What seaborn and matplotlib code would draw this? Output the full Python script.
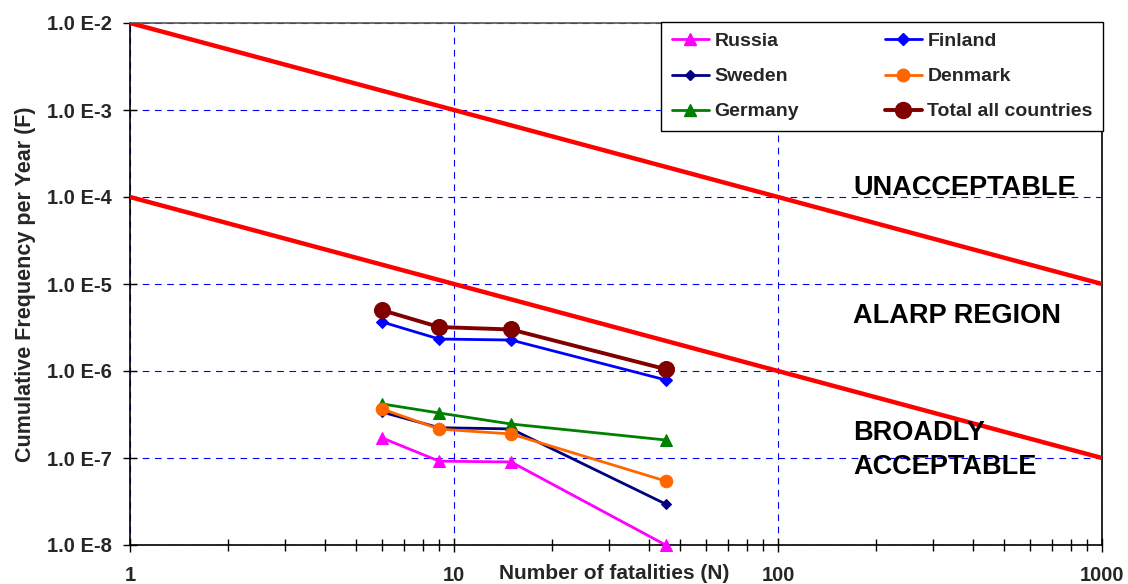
import numpy as np
import pandas as pd
import matplotlib
matplotlib.use("Agg")
import matplotlib.pyplot as plt
import seaborn as sns
from matplotlib.ticker import LogLocator, FixedLocator, NullFormatter, FuncFormatter

sns.set_theme(style="white")
plt.rcParams['font.family'] = ['Liberation Sans', 'DejaVu Sans']
plt.rcParams['font.weight'] = 'bold'

# Data
fatalities = [6, 9, 15, 45]
russia = [1.70e-7, 9.2e-8, 9.0e-8, 1.0e-8]
sweden = [3.37e-7, 2.23e-7, 2.16e-7, 2.96e-8]
germany = [4.18e-7, 3.29e-7, 2.46e-7, 1.61e-7]
finland = [3.66e-6, 2.33e-6, 2.27e-6, 7.9e-7]
denmark = [3.66e-7, 2.15e-7, 1.89e-7, 5.44e-8]
total = [5.0e-6, 3.2e-6, 3.0e-6, 1.05e-6]

# Criterion lines (F-N limits)
limit_n = [1, 1000]
upper_limit = [1e-2, 1e-5]
lower_limit = [1e-4, 1e-7]

series_names = ["Russia", "Sweden", "Germany", "Finland", "Denmark", "Total all countries"]
series_values = [russia, sweden, germany, finland, denmark, total]

df = pd.DataFrame(
    [(name, n, f) for name, vals in zip(series_names, series_values) for n, f in zip(fatalities, vals)],
    columns=["Country", "N", "F"],
)

styles = {
    "Russia": dict(color="#FF00FF", marker="^", ms=8, lw=2.0),
    "Sweden": dict(color="#000080", marker="D", ms=5, lw=2.0),
    "Germany": dict(color="#008000", marker="^", ms=9, lw=2.0),
    "Finland": dict(color="#0000FF", marker="D", ms=6.5, lw=2.0),
    "Denmark": dict(color="#FF6600", marker="o", ms=9, lw=2.0),
    "Total all countries": dict(color="#800000", marker="o", ms=11.5, lw=2.8),
}

fig = plt.figure(figsize=(11.28, 5.84), dpi=100)
ax = fig.add_axes([130 / 1128, 1 - 545 / 584, 972 / 1128, 522 / 584])

ax.set_xscale("log")
ax.set_yscale("log")
ax.set_xlim(1, 1000)
ax.set_ylim(1e-8, 1e-2)

# grid
ax.grid(True, which="major", axis="both", color="#0000FF", linestyle=(0, (6, 5)), linewidth=0.8)

# limit lines
crit = pd.DataFrame({"N": limit_n * 2, "F": upper_limit + lower_limit,
                     "line": ["up", "up", "low", "low"]})
for key in ["up", "low"]:
    sns.lineplot(data=crit[crit["line"] == key], x="N", y="F", ax=ax, color="#FF0000",
                 linewidth=3.2, legend=False, zorder=3, solid_capstyle="butt")

handles = []
for name in series_names:
    st = styles[name]
    sub = df[df["Country"] == name]
    sns.lineplot(data=sub, x="N", y="F", ax=ax, color=st["color"], marker=st["marker"],
                 markersize=st["ms"], markeredgecolor=st["color"], linewidth=st["lw"],
                 legend=False, zorder=4, clip_on=False)
    h, = ax.plot([], [], color=st["color"], marker=st["marker"], markersize=st["ms"],
                 markeredgecolor=st["color"], linewidth=st["lw"], label=name)
    handles.append(h)

# ticks
ax.xaxis.set_major_locator(FixedLocator([1, 10, 100, 1000]))
ax.xaxis.set_minor_locator(LogLocator(base=10, subs=np.arange(2, 10)))
ax.xaxis.set_minor_formatter(NullFormatter())
ax.xaxis.set_major_formatter(FuncFormatter(lambda v, p: f"{v:g}"))
ax.yaxis.set_major_locator(FixedLocator([1e-8, 1e-7, 1e-6, 1e-5, 1e-4, 1e-3, 1e-2]))
ax.yaxis.set_minor_locator(FixedLocator([]))
ax.yaxis.set_major_formatter(FuncFormatter(lambda v, p: f"1.0 E{int(round(np.log10(v)))}"))
ax.tick_params(axis="x", which="major", direction="inout", length=10, width=1, color="black",
               labelsize=14.5, pad=10, bottom=True)
ax.tick_params(axis="x", which="minor", direction="inout", length=8, width=1, color="black", bottom=True)
ax.tick_params(axis="y", which="major", direction="inout", length=10, width=1, color="black",
               labelsize=14.5, pad=8, left=True)
for lbl in ax.get_xticklabels() + ax.get_yticklabels():
    lbl.set_fontweight("bold")

for side in ["left", "bottom", "right"]:
    ax.spines[side].set_color("black")
    ax.spines[side].set_linewidth(1.2)
    ax.spines[side].set_visible(True)
ax.spines["top"].set_color("#555555")
ax.spines["top"].set_linewidth(1.2)
ax.spines["top"].set_visible(True)

ax.set_ylabel("Cumulative Frequency per Year (F)", fontsize=15.5, fontweight="bold", labelpad=8)
ax.set_xlabel("Number of fatalities (N)", fontsize=15, fontweight="bold")
ax.xaxis.set_label_coords(0.498, -0.036)

# region texts
txt_kw = dict(fontsize=19.5, fontweight="bold", color="black", zorder=5)
ax.text((853 - 130) / 972, 1 - (188 - 23) / 522, "UNACCEPTABLE",
        transform=ax.transAxes, va="center", ha="left", **txt_kw)
ax.text((853 - 130) / 972, 1 - (316 - 23) / 522, "ALARP REGION",
        transform=ax.transAxes, va="center", ha="left", **txt_kw)
ax.text((853 - 130) / 972, 1 - (450 - 23) / 522, "BROADLY\nACCEPTABLE",
        transform=ax.transAxes, va="center", ha="left", linespacing=1.4, **txt_kw)

leg = ax.legend(handles=handles, ncol=2, loc="upper right", bbox_to_anchor=(1.0015, 1.002),
                frameon=True, fancybox=False, framealpha=1, edgecolor="black",
                prop={"size": 14, "weight": "bold"}, handlelength=1.9, handletextpad=0.3,
                columnspacing=4.4, borderpad=0.55, labelspacing=0.9, borderaxespad=0)
leg.get_frame().set_linewidth(1.0)
leg.set_zorder(6)

fig.savefig("out.png", dpi=100, facecolor="white")
